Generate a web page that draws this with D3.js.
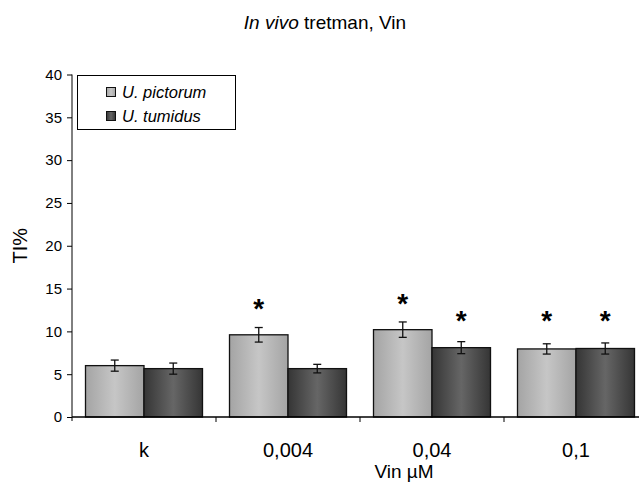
<!DOCTYPE html>
<html>
<head>
<script src="https://cdn.jsdelivr.net/npm/d3@7"></script>
<style>
  body { margin: 0; background: #fff; }
  svg { display: block; font-family: "Liberation Sans", Arial, sans-serif; }
</style>
</head>
<body>
<div id="chart"></div>
<script>
// values
var categories = ["k", "0,004", "0,04", "0,1"];
var series = ["U. pictorum", "U. tumidus"];
var pictorum = [6.0, 9.6, 10.2, 7.95];
var pictorumErr = [0.65, 0.85, 0.9, 0.6];
var tumidus = [5.65, 5.65, 8.1, 8.0];
var tumidusErr = [0.65, 0.5, 0.7, 0.65];
// where the significance stars sit (y units), null = no star
var pictorumStar = [null, 13.4, 14.0, 12.05];
var tumidusStar = [null, null, 12.05, 12.05];
var yTicks = [0, 5, 10, 15, 20, 25, 30, 35, 40];

var width = 639, height = 486;
var plotLeft = 72, plotRight = 648, plotTop = 74.5, plotBottom = 417;

var svg = d3.select("#chart").append("svg")
    .attr("width", width)
    .attr("height", height);

var defs = svg.append("defs");
function grad(id, edge, mid) {
    var g = defs.append("linearGradient").attr("id", id)
        .attr("x1", "0%").attr("x2", "100%").attr("y1", "0%").attr("y2", "0%");
    g.append("stop").attr("offset", "0%").attr("stop-color", edge);
    g.append("stop").attr("offset", "50%").attr("stop-color", mid);
    g.append("stop").attr("offset", "100%").attr("stop-color", edge);
}
grad("gLight", "#a4a4a4", "#c6c6c6");
grad("gDark", "#353535", "#666666");

var x = d3.scaleBand().domain(categories).range([plotLeft, plotRight]).padding(0);
var y = d3.scaleLinear().domain([0, 40]).range([plotBottom, plotTop]);
var barW = 58.5;

// title
var title = svg.append("text")
    .attr("x", 325).attr("y", 29)
    .attr("text-anchor", "middle")
    .style("font-size", "19px");
title.append("tspan").style("font-style", "italic").text("In vivo");
title.append("tspan").text(" tretman, Vin");

// y axis
var yAxis = svg.append("g")
    .attr("transform", "translate(" + plotLeft + ",0)")
    .call(d3.axisLeft(y).tickValues(yTicks).tickSize(5).tickPadding(5));
yAxis.select(".domain").remove();
yAxis.selectAll("text").style("font-size", "15px").attr("fill", "#000")
    .style("font-family", "Liberation Sans, Arial, sans-serif");
yAxis.selectAll("line").attr("stroke", "#000");
svg.append("line")
    .attr("x1", plotLeft).attr("x2", plotLeft)
    .attr("y1", y(40)).attr("y2", plotBottom + 4)
    .attr("stroke", "#000");

svg.append("text")
    .attr("transform", "translate(27," + ((plotTop + plotBottom) / 2) + ") rotate(-90)")
    .attr("text-anchor", "middle")
    .style("font-size", "20px")
    .text("TI%");

// bars
var data = [];
categories.forEach(function(c, i) {
    data.push({cat: c, k: 0, v: pictorum[i], e: pictorumErr[i], s: pictorumStar[i]});
    data.push({cat: c, k: 1, v: tumidus[i], e: tumidusErr[i], s: tumidusStar[i]});
});
function bx(d) {
    var c = x(d.cat) + x.bandwidth() / 2;
    return d.k === 0 ? c - barW : c;
}

svg.selectAll("rect.bar").data(data).enter().append("rect")
    .attr("class", "bar")
    .attr("x", bx)
    .attr("width", barW)
    .attr("y", function(d) { return y(d.v); })
    .attr("height", function(d) { return plotBottom - y(d.v); })
    .attr("fill", function(d) { return d.k === 0 ? "url(#gLight)" : "url(#gDark)"; })
    .attr("stroke", "#111")
    .attr("stroke-width", 1.3);

// error bars
var eb = svg.selectAll("g.err").data(data).enter().append("g").attr("class", "err")
    .attr("stroke", "#111").attr("stroke-width", 1.3);
eb.append("line")
    .attr("x1", function(d) { return bx(d) + barW / 2; })
    .attr("x2", function(d) { return bx(d) + barW / 2; })
    .attr("y1", function(d) { return y(d.v + d.e); })
    .attr("y2", function(d) { return y(d.v - d.e); });
[1, -1].forEach(function(sgn) {
    eb.append("line")
        .attr("x1", function(d) { return bx(d) + barW / 2 - 4; })
        .attr("x2", function(d) { return bx(d) + barW / 2 + 4; })
        .attr("y1", function(d) { return y(d.v + sgn * d.e); })
        .attr("y2", function(d) { return y(d.v + sgn * d.e); });
});

// stars
svg.selectAll("text.star").data(data.filter(function(d) { return d.s !== null; }))
    .enter().append("text")
    .attr("class", "star")
    .attr("x", function(d) { return bx(d) + barW / 2; })
    .attr("y", function(d) { return y(d.s) + 16; })
    .attr("text-anchor", "middle")
    .style("font-size", "28px")
    .style("font-weight", "bold")
    .text("*");

// x axis
svg.append("line")
    .attr("x1", plotLeft).attr("x2", plotRight)
    .attr("y1", plotBottom).attr("y2", plotBottom)
    .attr("stroke", "#000").attr("stroke-width", 1.5);
svg.selectAll("line.ctick").data(categories.slice(1)).enter().append("line")
    .attr("class", "ctick")
    .attr("x1", function(d) { return x(d); })
    .attr("x2", function(d) { return x(d); })
    .attr("y1", plotBottom).attr("y2", plotBottom + 5)
    .attr("stroke", "#000");
svg.selectAll("text.cat").data(categories).enter().append("text")
    .attr("class", "cat")
    .attr("x", function(d) { return x(d) + x.bandwidth() / 2; })
    .attr("y", 457)
    .attr("text-anchor", "middle")
    .style("font-size", "20px")
    .text(function(d) { return d; });
svg.append("text")
    .attr("x", 404).attr("y", 478)
    .attr("text-anchor", "middle")
    .style("font-size", "19px")
    .text("Vin \u00b5M");

// legend
var lg = svg.append("g");
lg.append("rect")
    .attr("x", 77.5).attr("y", 75.5).attr("width", 158).attr("height", 54)
    .attr("fill", "#fff").attr("stroke", "#000");
series.forEach(function(s, i) {
    lg.append("rect")
        .attr("x", 106.5).attr("y", 87.5 + i * 24).attr("width", 9).attr("height", 9)
        .attr("fill", i === 0 ? "url(#gLight)" : "url(#gDark)")
        .attr("stroke", "#111");
    lg.append("text")
        .attr("x", 122).attr("y", 98 + i * 24)
        .style("font-size", "16.5px").style("font-style", "italic")
        .text(s);
});
</script>
</body>
</html>
